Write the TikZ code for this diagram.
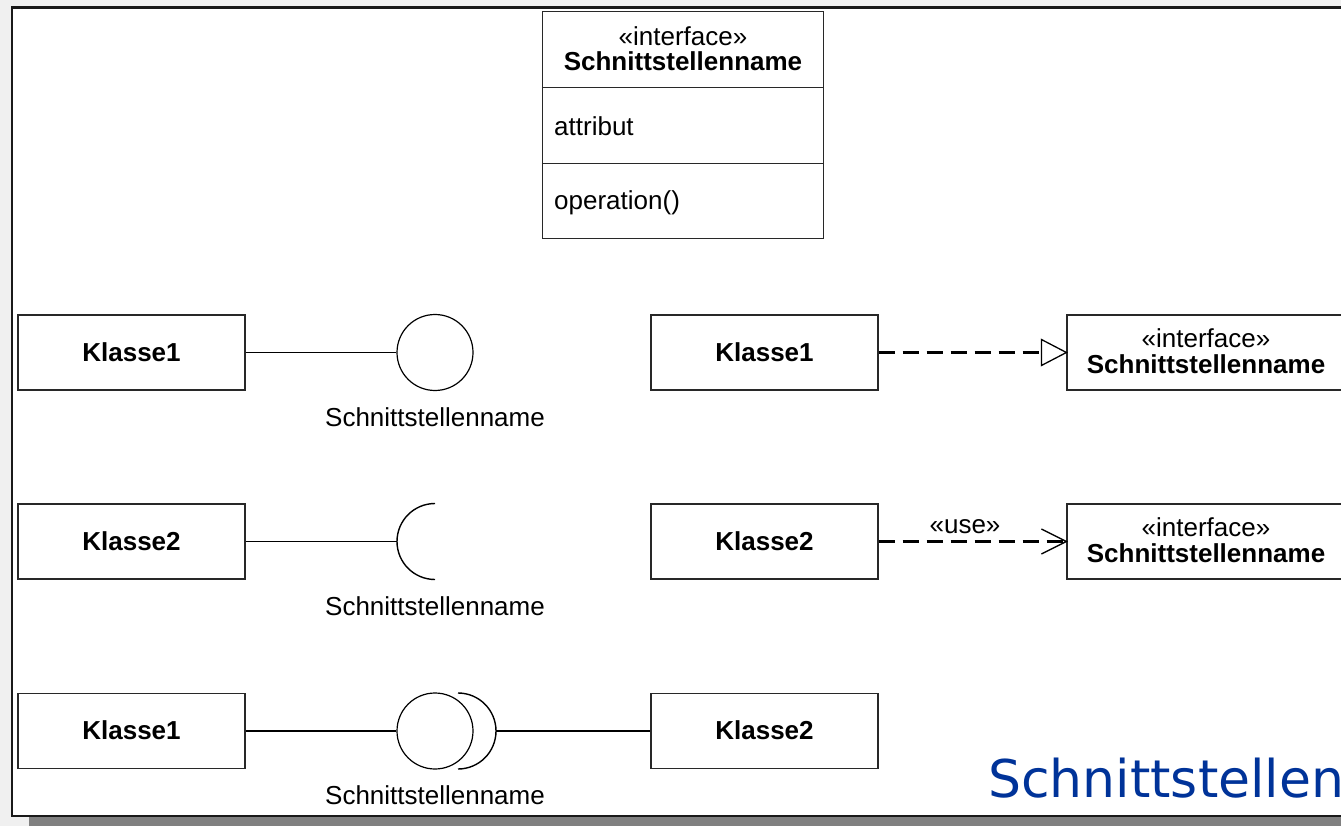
\documentclass[tikz,border=0pt]{standalone}
\usepackage{fontspec}
\setmainfont{Liberation Sans}
\newfontfamily\headfont{DejaVu Sans}
\definecolor{paper}{RGB}{240,240,240}
\definecolor{shadowgray}{RGB}{128,128,128}
\definecolor{boxline}{RGB}{40,40,40}
\definecolor{titleblue}{RGB}{0,51,153}
\begin{document}
\begin{tikzpicture}[x=1pt,y=1pt,
  every node/.style={font=\fontsize{26}{30}\selectfont, inner sep=0pt},
  umlbox/.style={draw=boxline, line width=1.2pt, fill=white, minimum width=227pt,
    minimum height=75pt, text height=19pt, text depth=1.5pt,
    font=\fontsize{26}{30}\selectfont\bfseries},
  ifbox/.style={draw=boxline, line width=1.2pt, fill=white, minimum width=280pt,
    minimum height=75pt},
  ball/.style={draw=black, line width=1.2pt, circle, minimum size=76pt},
  conn/.style={draw=black, line width=1.4pt},
  dashconn/.style={draw=black, line width=2.4pt, dash pattern=on 16pt off 8pt},
  tipline/.style={draw=black, line width=1.3pt, line join=miter},
  stereo/.style={anchor=base},
  ifname/.style={anchor=base, font=\fontsize{26}{30}\selectfont\bfseries},
  frameline/.style={draw=black!90, line width=2.2pt}]
\useasboundingbox (0,0) rectangle (1341,-826);

% page background, shadow and frame
\fill[paper] (0,0) rectangle (1341,-826);
\fill[shadowgray] (29,-817) rectangle (1350,-826);
\fill[white] (12,-7.5) rectangle (1350,-816);
\draw[frameline] (1350,-7.5) -- (12,-7.5) -- (12,-816) -- (1350,-816);

% interface class with compartments
\node[draw=boxline, line width=1.2pt, minimum width=281pt, minimum height=227pt] (iface) at (683,-125) {};
\draw[draw=boxline, line width=1.2pt] (iface.west |- 0,-87.5) -- (iface.east |- 0,-87.5);
\draw[draw=boxline, line width=1.2pt] (iface.west |- 0,-163.5) -- (iface.east |- 0,-163.5);
\node[stereo] (ifst) at (683,-45.5) {«interface»};
\node[ifname] (ifnm) at (683,-70.5) {Schnittstellenname};
\node[anchor=base west] (attr) at (554,-135.5) {attribut};
\node[anchor=base west] (oper) at (554,-210) {operation()};

% row 1: provided interface (lollipop) and realization
\node[umlbox] (ka) at (131.5,-352.5) {Klasse1};
\node[ball] (ca) at (435,-352.5) {};
\draw[conn] (ka.east) -- (ca.west);
\node[stereo] (la) at (435,-426.5) {Schnittstellenname};

\node[umlbox] (kb) at (764.5,-352.5) {Klasse1};
\node[ifbox] (ia) at (1207,-352.5) {};
\node[stereo] (iast) at (1206,-347) {«interface»};
\node[ifname] (ianm) at (1206,-373.5) {Schnittstellenname};
\coordinate (tria) at ([xshift=-25pt]ia.west);
\draw[dashconn] (kb.east) -- (tria);
\draw[tipline] (ia.west) -- ([yshift=13pt]tria) -- ([yshift=-13pt]tria) -- cycle;

% row 2: required interface (socket) and usage
\node[umlbox] (kc) at (131.5,-541.5) {Klasse2};
\coordinate (sb) at (435,-541.5);
\draw[conn] (kc.east) -- ([xshift=-38pt]sb);
\draw[conn] ([yshift=38pt]sb) arc[start angle=90, end angle=270, radius=38pt];
\node[stereo] (lb) at (435,-615) {Schnittstellenname};

\node[umlbox] (kd) at (764.5,-541.5) {Klasse2};
\node[ifbox] (ib) at (1207,-541.5) {};
\node[stereo] (ibst) at (1206,-536) {«interface»};
\node[ifname] (ibnm) at (1206,-562.5) {Schnittstellenname};
\draw[dashconn] (kd.east) -- (ib.west);
\node[stereo] (use) at (965,-533.5) {«use»};
\draw[tipline] ([shift={(-25pt,12.5pt)}]ib.west) -- (ib.west) -- ([shift={(-25pt,-12.5pt)}]ib.west);

% row 3: assembly (ball and socket)
\node[umlbox] (ke) at (131.5,-731) {Klasse1};
\node[ball] (cc) at (435,-731) {};
\draw[conn] (ke.east) -- (cc.west);
\coordinate (sc) at (458,-731);
\draw[conn] ([yshift=-38pt]sc) arc[start angle=-90, end angle=90, radius=38pt];
\node[umlbox] (kf) at (764.5,-731) {Klasse2};
\draw[conn] ([xshift=38pt]sc) -- (kf.west);
\node[stereo] (lc) at (435,-804) {Schnittstellenname};

% slide title
\node[anchor=base west, font=\headfont\fontsize{52}{58}\selectfont, text=titleblue] (title) at (988,-797) {Schnittstellen};
\end{tikzpicture}
\end{document}
